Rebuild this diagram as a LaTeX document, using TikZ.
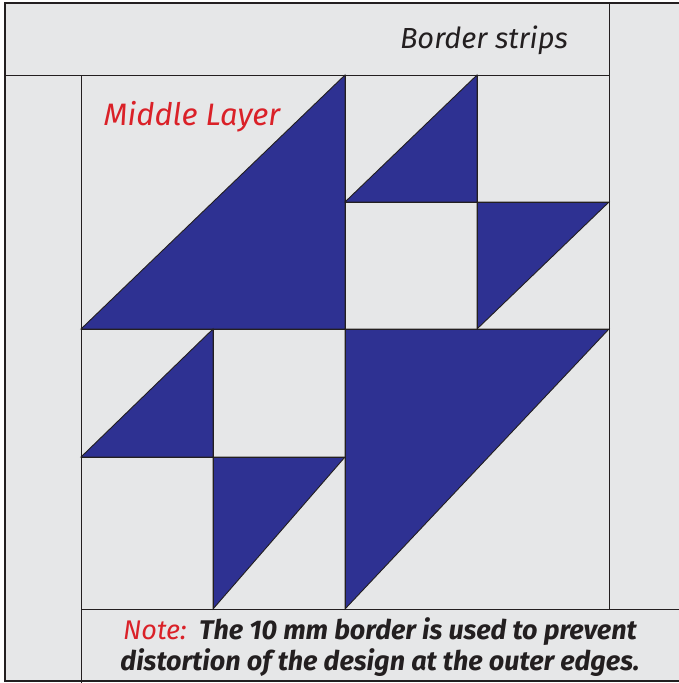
\documentclass[tikz,border=0pt]{standalone}
\usepackage{fontspec}
\setmainfont{Fira Sans}
\definecolor{quiltblue}{HTML}{2E3192}
\definecolor{quiltbg}{HTML}{E6E7E8}
\definecolor{quiltred}{HTML}{DA2128}
\definecolor{quiltline}{HTML}{231F20}
\tikzset{
  x=1pt,y=-1pt,
  piece/.style={fill=quiltblue,draw=quiltline,line width=0.9pt,line join=miter},
  seam/.style={draw=quiltline,line width=0.9pt},
  labeltext/.style={inner sep=0pt,font=\itshape},
}
\begin{document}
\begin{tikzpicture}
\useasboundingbox (0,0) rectangle (679,683);
\clip (0,0) rectangle (679,683);
\fill[white] (0,0) rectangle (679,683);
% outer frame
\draw[fill=quiltbg,draw=quiltline,line width=2.6pt] (5,3) rectangle (700,681);
% blue triangles
\filldraw[piece] (81,329) -- (345,75) -- (345,329) -- cycle;
\filldraw[piece] (345,202) -- (477,75) -- (477,202) -- cycle;
\filldraw[piece] (477,202) -- (609,202) -- (477,329) -- cycle;
\filldraw[piece] (81,457) -- (213,329) -- (213,457) -- cycle;
\filldraw[piece] (213,457) -- (345,457) -- (213,609) -- cycle;
\filldraw[piece] (345,329) -- (609,329) -- (345,609) -- cycle;
% border strip seams
\draw[seam] (5,75) -- (609,75);
\draw[seam] (609,3) -- (609,609);
\draw[seam] (81,609) -- (700,609);
\draw[seam] (81,75) -- (81,683);
% inner seams
\draw[seam] (345,75) -- (345,609);
\draw[seam] (81,329) -- (609,329);
\draw[seam] (477,75) -- (477,329);
\draw[seam] (345,202) -- (609,202);
\draw[seam] (213,329) -- (213,609);
\draw[seam] (81,457) -- (345,457);
% texts
\node[labeltext,font=\itshape\fontsize{29}{34}\selectfont,text=quiltline] (border) at (484,40) {Border strips};
\node[labeltext,font=\itshape\fontsize{31}{36}\selectfont,text=quiltred] (middle) at (192,117) {Middle Layer};
\node[labeltext,font=\bfseries\itshape\fontsize{27}{31}\selectfont,text=quiltline,align=center] (note) at (380,647)
  {\textcolor{quiltred}{\mdseries Note:}\, The 10 mm border is used to prevent\\distortion of the design at the outer edges.};
\end{tikzpicture}
\end{document}
